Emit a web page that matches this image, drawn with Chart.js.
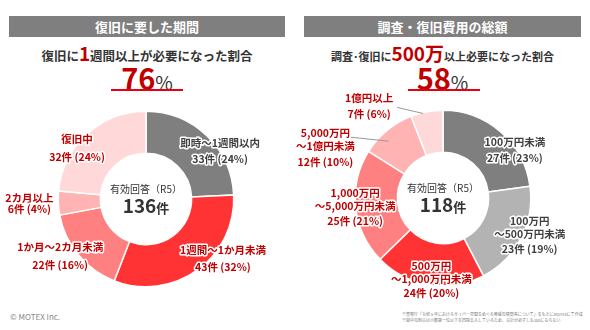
<!DOCTYPE html>
<html lang="ja">
<head>
<meta charset="utf-8">
<script src="https://cdn.jsdelivr.net/npm/chart.js@4.4.0/dist/chart.umd.min.js"></script>
<style>
  body {
    margin: 0;
    width: 590px;
    height: 330px;
    overflow: hidden;
    background: #fff;
    position: relative;
    font-family: "Noto Sans CJK JP", sans-serif;
    color: #333;
  }
  .bar {
    position: absolute;
    top: 16px;
    height: 21px;
    line-height: 21px;
    background: #7f7f7f;
    color: #fff;
    font-weight: bold;
    font-size: 13px;
    text-align: center;
  }
  .sub {
    position: absolute;
    top: 40px;
    height: 26px;
    line-height: 26px;
    text-align: center;
    font-weight: bold;
    white-space: nowrap;
  }
  .em { color: #c00000; }
  .rate {
    position: absolute;
    top: 60px;
    height: 34px;
    line-height: 34px;
    text-align: center;
    white-space: nowrap;
  }
  .rate .num { font-size: 29px; font-weight: bold; color: #c00000; }
  .rate .pct { font-size: 19px; }
  .uline { position: absolute; top: 89px; height: 2px; background: #e60012; }
  canvas { position: absolute; top: 92px; }
  .copy { position: absolute; left: 10px; top: 311px; font-size: 8px; color: #888; }
  .note { position: absolute; left: 402px; font-size: 4px; line-height: 5px; color: #777; white-space: nowrap; }
</style>
</head>
<body>

<div class="bar" style="left:9px; width:276px;">復旧に要した期間</div>
<div class="bar" style="left:304px; width:277px;">調査・復旧費用の総額</div>

<div class="sub" style="left:9px; width:276px; font-size:12.5px;">復旧に<span class="em" style="font-size:19px;">1</span>週間以上が必要になった割合</div>
<div class="sub" style="left:304px; width:277px; font-size:11px;">調査･復旧に<span class="em" style="font-size:19px;">500万</span>以上必要になった割合</div>

<div class="rate" style="left:9px; width:276px;"><span class="num">76</span><span class="pct">%</span></div>
<div class="rate" style="left:304px; width:277px;"><span class="num">58</span><span class="pct">%</span></div>
<div class="uline" style="left:111px; width:72px;"></div>
<div class="uline" style="left:408px; width:72px;"></div>

<canvas id="periodChart" width="295" height="218" style="left:0;"></canvas>
<canvas id="costChart" width="295" height="218" style="left:295px;"></canvas>

<div class="copy">© MOTEX Inc.</div>
<div class="note" style="top:312px;">※警察庁「令和５年におけるサイバー空間をめぐる脅威の情勢等について」をもとにMOTEXにて作成</div>
<div class="note" style="top:318px;">※図中の割合は小数第一位以下を四捨五入しているため、合計が必ずしも100にならない</div>

<script>
// 復旧に要した期間
const periodLabels = [['即時～1週間以内'], ['1週間～1か月未満'], ['1か月～2カ月未満'], ['2カ月以上'], ['復旧中']];
const periodCounts = [33, 43, 22, 6, 32];

// 調査・復旧費用の総額
const costLabels = [['100万円未満'], ['100万円', '～500万円未満'], ['500万円', '～1,000万円未満'],
  ['1,000万円', '～5,000万円未満'], ['5,000万円', '～1億円未満'], ['1億円以上']];
const costCounts = [27, 23, 24, 25, 12, 7];

const DARK = '#404040';
const RED = '#c00000';
const FONT = '"Noto Sans CJK JP", sans-serif';

// draws the segment labels (name + count/percent) and the total in the hole
const donutLabels = {
  id: 'donutLabels',
  afterDatasetsDraw(chart, args, opts) {
    const ctx = chart.ctx;
    const meta = chart.getDatasetMeta(0);
    const values = chart.data.datasets[0].data;
    const total = values.reduce((a, b) => a + b, 0);
    ctx.save();
    ctx.textAlign = 'center';
    ctx.textBaseline = 'middle';
    ctx.lineJoin = 'round';

    meta.data.forEach((arc, i) => {
      const p = arc.getProps(['x', 'y', 'startAngle', 'endAngle', 'innerRadius', 'outerRadius'], true);
      const mid = (p.startAngle + p.endAngle) / 2;
      const r = (p.innerRadius + p.outerRadius) / 2;
      const ax = p.x + Math.cos(mid) * r;
      const ay = p.y + Math.sin(mid) * r;
      const lx = ax + opts.offsets[i][0];
      const ly = ay + opts.offsets[i][1];

      const lead = opts.leaders[i];
      if (lead) {
        ctx.strokeStyle = '#999';
        ctx.lineWidth = 1;
        ctx.beginPath();
        ctx.moveTo(ax + lead[0], ay + lead[1]);
        ctx.lineTo(ax + lead[2], ay + lead[3]);
        ctx.stroke();
      }

      const names = chart.data.labels[i];
      const pct = Math.round(values[i] / total * 100);
      const lines = names.concat(values[i] + '件 (' + pct + '%)');
      const ys = [];
      names.forEach((n, k) => ys.push(k * 13));
      ys.push((names.length - 1) * 13 + opts.countGap[i]);
      const shift = ys[ys.length - 1] / 2;

      ctx.font = 'bold 10.5px ' + FONT;
      lines.forEach((t, k) => {
        const y = ly + ys[k] - shift;
        ctx.strokeStyle = '#fff';
        ctx.lineWidth = 3;
        ctx.strokeText(t, lx, y);
        ctx.fillStyle = opts.colors[i];
        ctx.fillText(t, lx, y);
      });
    });

    const c = meta.data[0];
    ctx.fillStyle = '#333';
    ctx.font = '10px ' + FONT;
    ctx.fillText('有効回答（R5）', c.x, c.y - 10);

    ctx.textBaseline = 'alphabetic';
    ctx.font = 'bold 19px ' + FONT;
    const num = String(total);
    const w1 = ctx.measureText(num).width;
    ctx.font = 'bold 13px ' + FONT;
    const w2 = ctx.measureText('件').width;
    const x0 = c.x - (w1 + w2) / 2;
    ctx.textAlign = 'left';
    ctx.font = 'bold 19px ' + FONT;
    ctx.fillText(num, x0, c.y + 14);
    ctx.font = 'bold 13px ' + FONT;
    ctx.fillText('件', x0 + w1, c.y + 14);
    ctx.restore();
  }
};

function makeDonut(id, labels, counts, colors, padding, labelOpts) {
  return new Chart(document.getElementById(id), {
    type: 'doughnut',
    data: {
      labels: labels,
      datasets: [{
        data: counts,
        backgroundColor: colors,
        borderColor: '#fff',
        borderWidth: 1.5
      }]
    },
    options: {
      responsive: false,
      animation: false,
      cutout: '52%',
      layout: { padding: padding },
      plugins: {
        legend: { display: false },
        tooltip: { enabled: false },
        donutLabels: labelOpts
      }
    },
    plugins: [donutLabels]
  });
}

// canvas top is 92px, so chart centres land at y 199 / 198 on the page
makeDonut('periodChart', periodLabels, periodCounts,
  ['#7f7f7f', '#ff3333', '#ff8080', '#ffb3b3', '#ffd9d9'],
  { left: 57.5, right: 60.5, top: 18.5, bottom: 22.5 },
  {
    offsets: [[28, 0], [38, 5], [-34.5, 14], [-50, 1.5], [-24, -2]],
    countGap: [16, 17, 18, 11, 18],
    colors: [DARK, RED, RED, RED, RED],
    leaders: []
  });

makeDonut('costChart', costLabels, costCounts,
  ['#7f7f7f', '#b3b3b3', '#ff3333', '#ff8080', '#ffb3b3', '#ffd9d9'],
  { left: 59.5, right: 58.5, top: 17.5, bottom: 23.5 },
  {
    offsets: [[28, 2], [27.5, 6], [-1, 16], [-21.5, 2], [-75, 0.5], [-61.5, -26]],
    countGap: [16, 15, 14, 15, 16, 16],
    colors: [DARK, DARK, RED, RED, RED, RED],
    leaders: [null, null, null, null, [-50, -9.5, -12, -5.5], [-33.5, -25, -7.5, -19]]
  });
</script>
</body>
</html>
